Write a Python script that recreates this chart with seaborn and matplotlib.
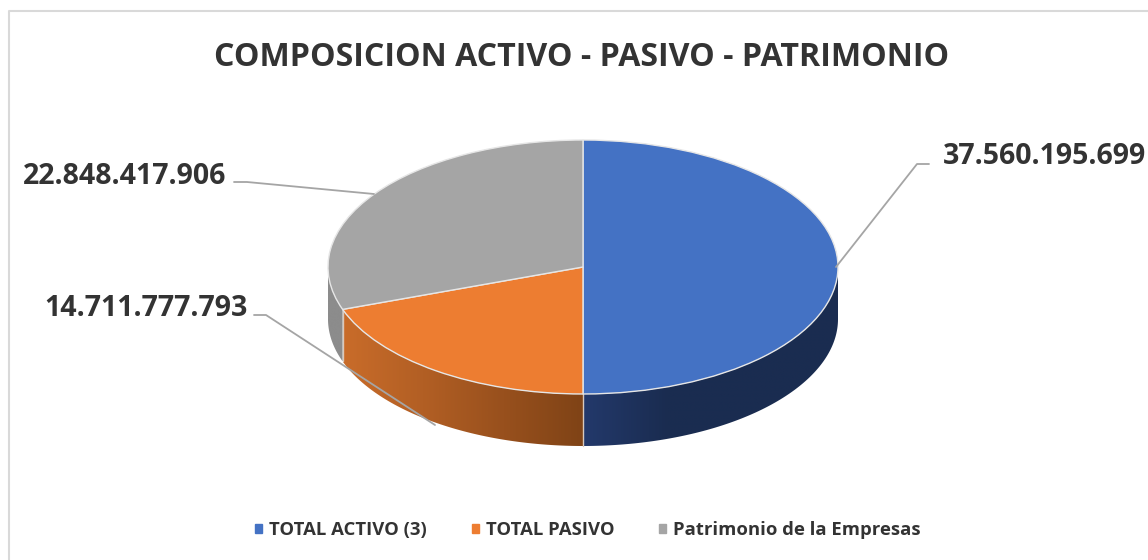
import numpy as np
import matplotlib
matplotlib.use('Agg')
import matplotlib.pyplot as plt
import seaborn as sns
from matplotlib.colors import to_rgb
from matplotlib.lines import Line2D
from matplotlib.patches import Polygon, Rectangle

title = 'COMPOSICION ACTIVO - PASIVO - PATRIMONIO'
categories = ['TOTAL ACTIVO (3)', 'TOTAL PASIVO', 'Patrimonio de la Empresas']
values = [37560195699, 14711777793, 22848417906]
value_labels = ['37.560.195.699', '14.711.777.793', '22.848.417.906']
colors = ['#4472c4', '#ed7d31', '#a5a5a5']
# side wall shading, left to right across each visible piece of wall
wall_colors = [['#23396b', '#1a2c50', '#1a2c50', '#1a2c50'],
               ['#c96c2a', '#b25f24', '#98501d', '#7f4316'],
               ['#8c8c8c', '#8c8c8c', '#8c8c8c', '#8c8c8c']]

W, H = 1148, 560
cx, cy, rx, ry, depth = 583, 267, 255, 127, 52

sns.set_theme(style='white')
plt.rcParams['font.family'] = ['Open Sans', 'DejaVu Sans']

fig = plt.figure(figsize=(W / 100, H / 100), dpi=100)
ax = fig.add_axes([0, 0, 1, 1])


def px(x, y):
    # figure pixels (from top left) to figure fraction
    return x / W, 1 - y / H


# chart border, only left and top are inside the picture
fig.add_artist(Line2D([9 / W, 9 / W, 1], [0, 1 - 11 / H, 1 - 11 / H], color='#d9d9d9', lw=1.5))

# the wall of the pie: a gradient image clipped to each visible piece
angles = np.cumsum([0] + values) / sum(values) * 360
for i in range(3):
    a0, a1 = max(angles[i], 90), min(angles[i + 1], 270)
    th = np.radians(np.linspace(a0, a1, 200))
    xs, ys = np.sin(th), np.cos(th)
    shape = np.c_[np.r_[xs, xs[::-1]], np.r_[ys, ys[::-1] - depth / ry]]
    rgb = np.array([to_rgb(c) for c in wall_colors[i]])
    pos = np.linspace(0, 1, 256)
    grad = np.stack([np.interp(pos, np.linspace(0, 1, len(rgb)), rgb[:, k]) for k in range(3)], axis=-1)[None, :, :]
    im = ax.imshow(grad, extent=[xs.min(), xs.max(), shape[:, 1].min(), shape[:, 1].max()],
                   aspect='auto', zorder=1, interpolation='bilinear')
    clip = Polygon(shape, closed=True, transform=ax.transData)
    im.set_clip_path(clip)
    # light line where two slices meet on the wall
    if 90 < angles[i + 1] < 270:
        t_end = np.radians(angles[i + 1])
        ax.plot([np.sin(t_end)] * 2, [np.cos(t_end), np.cos(t_end) - depth / ry], color='#d9c9bc', lw=1, zorder=2)

wedges, _ = ax.pie(values, colors=colors, startangle=90, counterclock=False, radius=1,
                   wedgeprops={'edgecolor': '#e6e6e6', 'linewidth': 1, 'zorder': 3})

ax.set_aspect('auto')
ax.set_xlim(-cx / rx, (W - cx) / rx)
ax.set_ylim(-(H - cy) / ry, cy / ry)
ax.axis('off')

text_color = '#333333'
fig.text(*px(582, 57), title, ha='center', va='center', fontsize=23.1, fontweight='bold', color=text_color)

label_pos = [(943, 156), (44, 309), (23, 176)]
leaders = [[(836, 267), (917, 164), (929, 164)],
           [(435, 425), (266, 315), (254, 315)],
           [(374, 194), (247, 182), (234, 182)]]
for i, txt in enumerate(value_labels):
    fig.text(*px(*label_pos[i]), txt, ha='left', va='center', fontsize=20.5, fontweight='bold', color=text_color)
    pts = np.array(leaders[i], dtype=float)
    fig.add_artist(Line2D(pts[:, 0] / W, 1 - pts[:, 1] / H, color='#a5a5a5', lw=1.3, zorder=5))

handles = [Rectangle((0, 0), 1, 1, color=c) for c in colors]
leg = fig.legend(handles, categories, loc='center', bbox_to_anchor=px(588, 530), ncol=3, frameon=False,
                 handlelength=0.38, handleheight=0.38, handletextpad=0.4, columnspacing=2.4,
                 prop={'size': 13.3, 'weight': 'bold'})
for t in leg.get_texts():
    t.set_color(text_color)

fig.savefig('out.png', dpi=100)
